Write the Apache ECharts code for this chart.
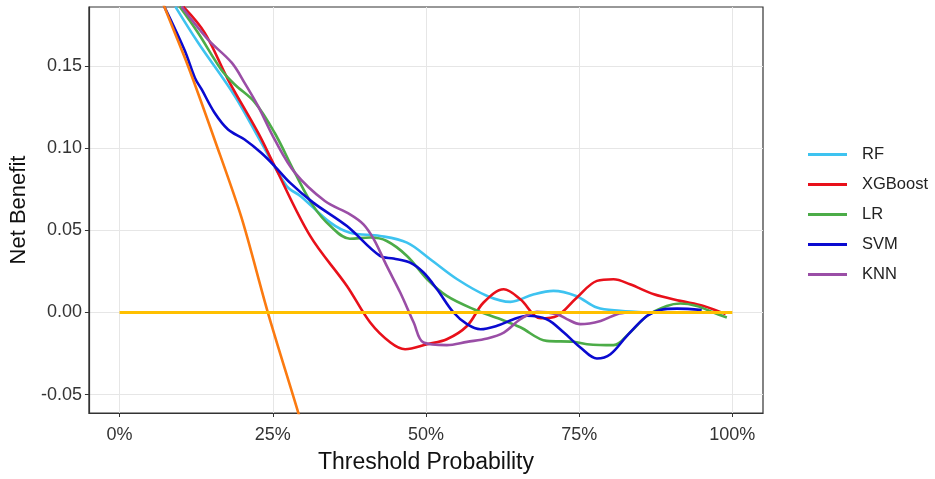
<!DOCTYPE html>
<html>
<head>
<meta charset="utf-8">
<script src="https://cdn.jsdelivr.net/npm/echarts@6/dist/echarts.min.js"></script>
<style>
  html, body { margin: 0; padding: 0; background: #fff; }
  #main { width: 935px; height: 479px; }
</style>
</head>
<body>
<div id="main"></div>
<script>
// threshold (fraction) / net benefit pairs
var rf = [[0.091,0.1865],[0.128,0.1646],[0.188,0.132],[0.231,0.1037],[0.273,0.077],[0.296,0.0708],[0.344,0.0548],
  [0.376,0.0487],[0.425,0.0467],[0.469,0.0426],[0.507,0.0325],[0.551,0.0203],[0.60,0.0101],[0.638,0.0065],
  [0.675,0.011],[0.708,0.0132],[0.745,0.0101],[0.779,0.003],[0.817,0.001],[0.86,0.0]];
var xgboost = [[0.104,0.1865],[0.139,0.1705],[0.177,0.142],[0.226,0.1096],[0.253,0.0893],
  [0.311,0.0467],[0.371,0.0162],[0.409,-0.0061],[0.442,-0.0183],[0.466,-0.0224],[0.502,-0.0193],[0.534,-0.0163],
  [0.567,-0.0082],[0.594,0.0061],[0.627,0.0142],[0.654,0.0081],[0.687,-0.0035],[0.714,-0.002],[0.746,0.009],
  [0.779,0.0193],[0.806,0.0203],[0.833,0.0172],[0.872,0.0111],[0.915,0.0071],[0.953,0.004],[0.989,-0.001]];
var lr = [[0.098,0.1865],[0.128,0.1705],[0.166,0.148],[0.188,0.139],[0.221,0.128],[0.253,0.1096],[0.286,0.0853],
  [0.316,0.065],[0.344,0.0527],[0.376,0.045],[0.409,0.0457],[0.436,0.0436],[0.469,0.0345],[0.502,0.0203],
  [0.534,0.0101],[0.578,0.002],[0.621,-0.004],[0.654,-0.009],[0.697,-0.0173],[0.741,-0.0178],[0.763,-0.0193],
  [0.806,-0.0199],[0.833,-0.0122],[0.861,-0.002],[0.893,0.004],[0.915,0.0055],[0.942,0.004],[0.969,0.0],[0.991,-0.003]];
var svm = [[0.073,0.1865],[0.106,0.160],[0.123,0.143],[0.134,0.136],[0.155,0.1218],[0.177,0.1116],[0.204,0.1055],
  [0.231,0.0974],[0.253,0.0893],[0.278,0.0792],[0.316,0.067],[0.371,0.0527],[0.425,0.0345],[0.447,0.0329],
  [0.474,0.0304],[0.496,0.0244],[0.518,0.0142],[0.545,0.0],[0.567,-0.0071],[0.589,-0.0102],[0.616,-0.0081],
  [0.643,-0.0041],[0.665,-0.002],[0.697,-0.0041],[0.725,-0.0122],[0.752,-0.0213],[0.779,-0.028],[0.801,-0.0254],
  [0.828,-0.0142],[0.861,-0.002],[0.882,0.0016],[0.91,0.0024],[0.95,0.0015]];
var knn = [[0.101,0.1865],[0.144,0.1665],[0.183,0.1523],[0.204,0.14],[0.226,0.1258],[0.253,0.1055],[0.286,0.0853],
  [0.335,0.068],[0.376,0.0599],[0.398,0.0538],[0.415,0.0446],[0.436,0.0284],[0.458,0.0122],[0.48,-0.0061],
  [0.496,-0.0183],[0.534,-0.0199],[0.567,-0.0179],[0.60,-0.0158],[0.627,-0.0122],[0.654,-0.0041],[0.681,0.0004],
  [0.714,-0.001],[0.73,-0.004],[0.752,-0.0071],[0.785,-0.0051],[0.812,-0.001],[0.83,0.0]];
var treatAll = [[0.05,0.21],[0.073,0.1865],[0.112,0.150],[0.155,0.1055],[0.199,0.0578],[0.242,0.0],[0.29,-0.059],[0.30,-0.072]];
var treatNone = [[0,0],[1,0]];

var models = ['RF', 'XGBoost', 'LR', 'SVM', 'KNN'];
var modelData = [rf, xgboost, lr, svm, knn];
var modelColors = ['#3ec3f0', '#e8101a', '#4cac48', '#0a0ad0', '#9a4ea6'];
var xTicks = [0, 0.25, 0.5, 0.75, 1];
var yTicks = [-0.05, 0, 0.05, 0.1, 0.15];

var chart = echarts.init(document.getElementById('main'));
var font = 'Liberation Sans, Arial, sans-serif';

var series = [];
for (var i = 0; i < models.length; i++) {
  series.push({
    name: models[i],
    type: 'line',
    data: modelData[i],
    smooth: 0.35,
    symbol: 'none',
    lineStyle: { color: modelColors[i], width: 2.6 },
    itemStyle: { color: modelColors[i] }
  });
}
series.push({
  name: 'All', type: 'line', data: treatAll, smooth: 0.3, symbol: 'none',
  lineStyle: { color: '#fb7a10', width: 2.6 }
});
series.push({
  name: 'None', type: 'line', data: treatNone, symbol: 'none',
  lineStyle: { color: '#ffc000', width: 3 }
});

var axisText = { color: '#333', fontSize: 18, fontFamily: font };

chart.setOption({
  animation: false,
  grid: {
    left: 88, top: 7, width: 675, height: 406,
    show: true, borderColor: '#333', borderWidth: 1.2, containLabel: false
  },
  legend: {
    data: models,
    orient: 'vertical',
    left: 803, top: 141,
    itemWidth: 39, itemHeight: 3, itemGap: 13,
    icon: 'rect',
    textStyle: { color: '#222', fontSize: 16.5, fontFamily: font, padding: [0, 0, 0, 10] }
  },
  xAxis: {
    type: 'value',
    min: -0.05, max: 1.05,
    name: 'Threshold Probability',
    nameLocation: 'middle', nameGap: 38,
    nameTextStyle: { color: '#111', fontSize: 23, fontFamily: font },
    axisLine: { show: true, onZero: false, lineStyle: { color: '#333', width: 1.2 } },
    axisTick: { show: true, length: 4, customValues: xTicks, lineStyle: { color: '#333' } },
    axisLabel: Object.assign({ margin: 13, customValues: xTicks,
      formatter: function (v) { return Math.round(v * 100) + '%'; } }, axisText),
    splitLine: { show: true, lineStyle: { color: '#e6e6e6', width: 1 } }
  },
  yAxis: {
    type: 'value',
    min: -0.06125, max: 0.18625,
    name: 'Net Benefit',
    nameLocation: 'middle', nameGap: 47,
    nameTextStyle: { color: '#111', fontSize: 22, fontFamily: font },
    axisLine: { show: true, onZero: false, lineStyle: { color: '#333', width: 1.2 } },
    axisTick: { show: true, length: 4, customValues: yTicks, lineStyle: { color: '#333' } },
    axisLabel: Object.assign({ margin: 7, customValues: yTicks,
      formatter: function (v) { return v.toFixed(2); } }, axisText),
    splitLine: { show: true, lineStyle: { color: '#e6e6e6', width: 1 } }
  },
  series: series
});
</script>
</body>
</html>
